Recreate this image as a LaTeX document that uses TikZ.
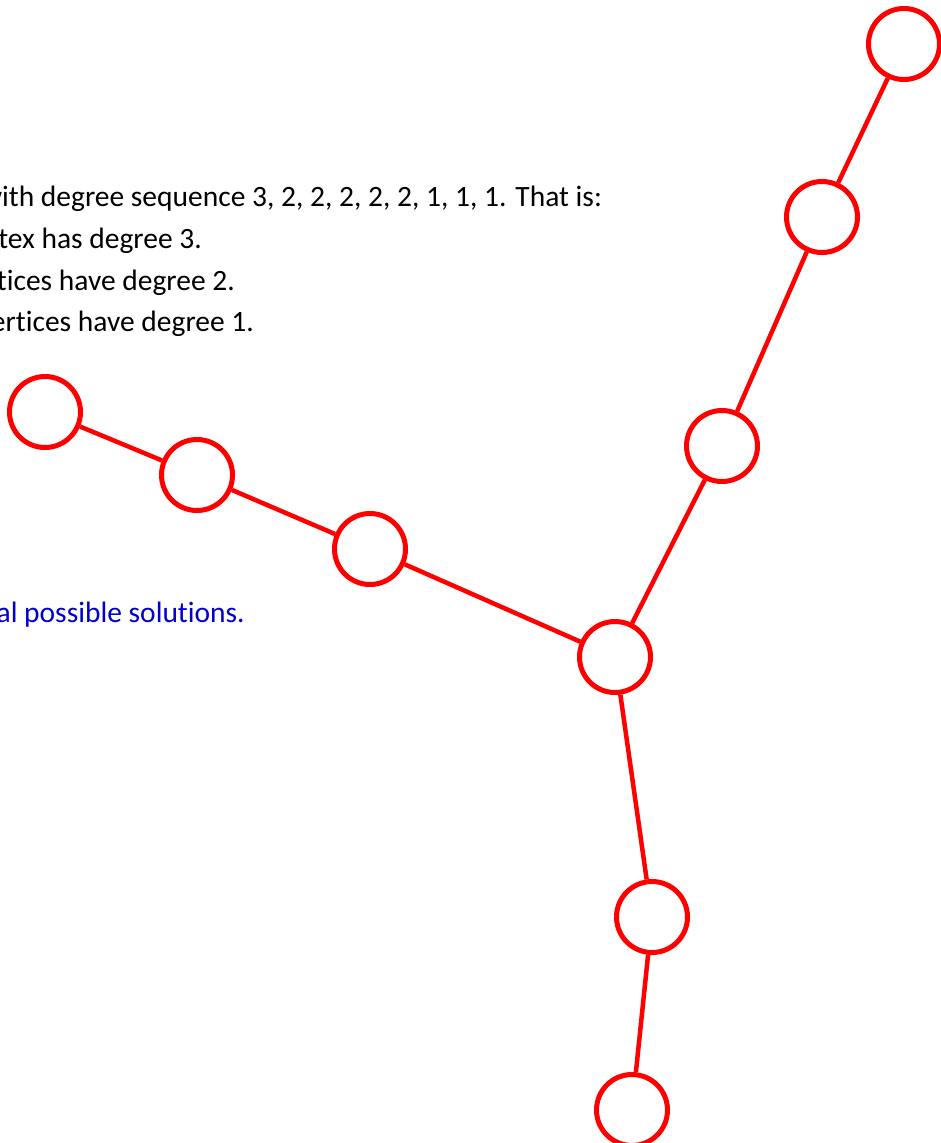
\documentclass[tikz,border=0pt]{standalone}
\usepackage{fontspec}
\setmainfont{Carlito}[Ligatures=NoCommon]
\definecolor{vred}{HTML}{FF0000}
\definecolor{note}{HTML}{0000CC}
\tikzset{
  vertex/.style={circle,draw=vred,line width=5pt,minimum size=71pt,inner sep=0pt,fill=white},
  edge/.style={draw=vred,line width=4.5pt},
  txt/.style={anchor=base east,inner sep=0pt,font=\fontsize{29.5}{35}\selectfont}
}

\begin{document}
\begin{tikzpicture}[x=1pt,y=-1pt]
  \useasboundingbox (0,0) rectangle (940,1143);
  % the text, cut at the left edge
  \node[txt] (line1) at (602,206) {with degree sequence 3, 2, 2, 2, 2, 2, 1, 1, 1. That is:};
  \node[txt] (line2) at (202,248) {tex has degree 3.};
  \node[txt] (line3) at (235,290) {tices have degree 2.};
  \node[txt] (line4) at (254,331) {ertices have degree 1.};
  \node[txt,text=note] (hint) at (245,622) {al possible solutions.};
  % the tree
  \node[vertex] (top) at (904,44) {};
  \node[vertex] (upper) at (822,217) {};
  \node[vertex] (mid) at (722,446) {};
  \node[vertex] (hub) at (615,657) {};
  \node[vertex] (left) at (370,549) {};
  \node[vertex] (farleft) at (197,475) {};
  \node[vertex] (leaf) at (45,412) {};
  \node[vertex] (low) at (652,917) {};
  \node[vertex] (bottom) at (632,1110) {};
  \draw[edge] (top) -- (upper);
  \draw[edge] (upper) -- (mid);
  \draw[edge] (mid) -- (hub);
  \draw[edge] (hub) -- (left);
  \draw[edge] (left) -- (farleft);
  \draw[edge] (farleft) -- (leaf);
  \draw[edge] (hub) -- (low);
  \draw[edge] (low) -- (bottom);
\end{tikzpicture}
\end{document}
